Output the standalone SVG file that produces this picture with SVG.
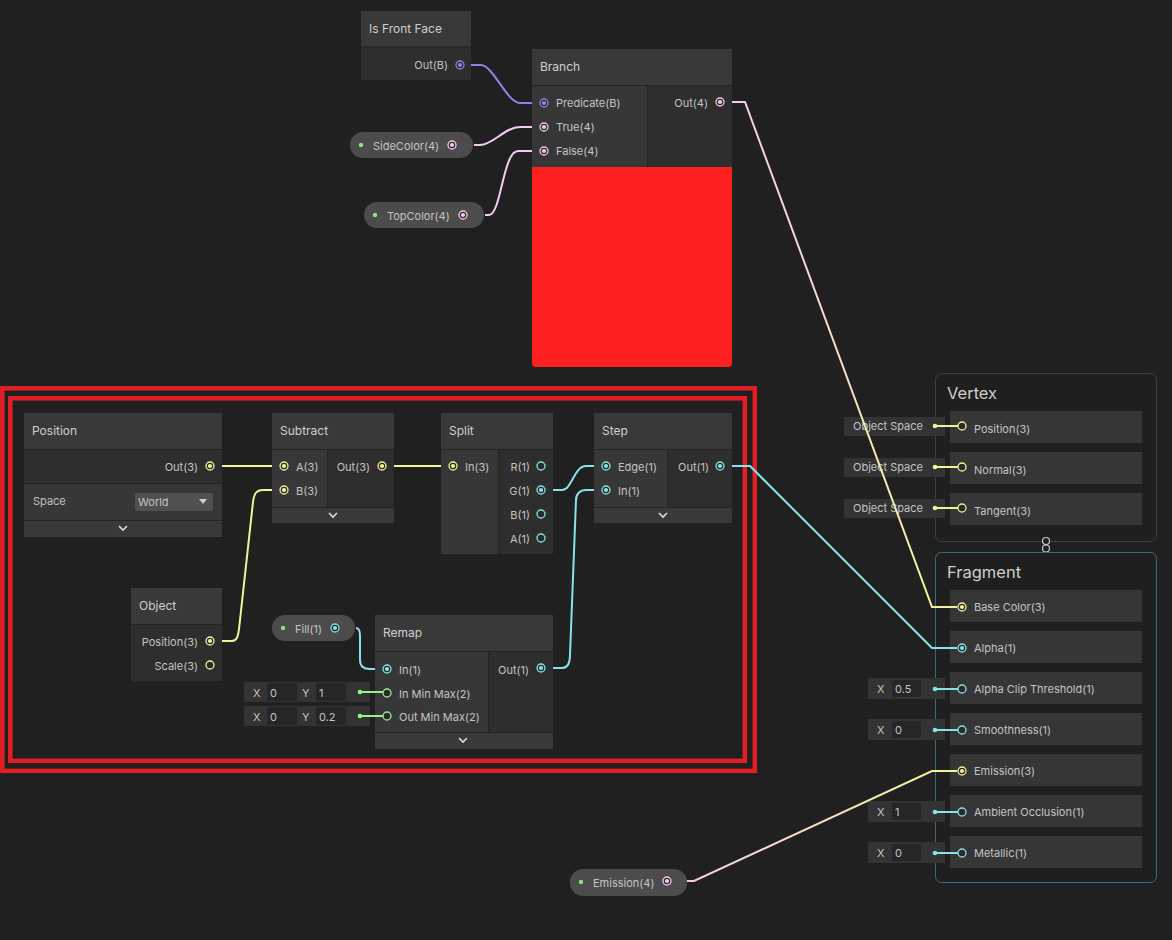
<svg xmlns="http://www.w3.org/2000/svg" width="1172" height="940" viewBox="0 0 1172 940">
<style>
.t{font-family:Inter,"Noto Sans",sans-serif;font-size:11px;fill:#c4c4c4}
.ti{font-family:Inter,"Noto Sans",sans-serif;font-size:12px;fill:#cfcfcf}
.big{font-family:Inter,"Noto Sans",sans-serif;font-size:16.5px;fill:#cfcfcf}
.r{text-anchor:end}
.hdr{fill:#393939}
.out{fill:#2e2e2e}
.inp{fill:#373737}
.bar{fill:#393939}
.sep{stroke:#242424;stroke-width:1}
.chev{fill:none;stroke:#dcdcdc;stroke-width:1.6}
.pill{fill:#4c4c4c}
.row{fill:#363636}
.fld{fill:#333333}
.box{fill:#262626}
.c{fill:none;stroke-width:2}
.cy{stroke:#f2f29c}
.cc{stroke:#84e4e7}
.cp{stroke:#f5cbef}
.cu{stroke:#9481e6}
.cg{stroke:#9aef92}
.red{fill:none;stroke:#e31e25;stroke-width:4.5}
</style>
<defs>
<g id="pFy"><circle r="4" fill="#2a2a2a" stroke="#f2f29c" stroke-width="1.3"/><circle r="2.1" fill="#f2f29c"/></g>
<g id="pHy"><circle r="4" fill="#2a2a2a" stroke="#f2f29c" stroke-width="1.3"/></g>
<g id="pFc"><circle r="4" fill="#2a2a2a" stroke="#84e4e7" stroke-width="1.3"/><circle r="2.1" fill="#84e4e7"/></g>
<g id="pHc"><circle r="4" fill="#2a2a2a" stroke="#84e4e7" stroke-width="1.3"/></g>
<g id="pFp"><circle r="4" fill="#2a2a2a" stroke="#f5cbef" stroke-width="1.3"/><circle r="2.1" fill="#f5cbef"/></g>
<g id="pFu"><circle r="4" fill="#2a2a2a" stroke="#9481e6" stroke-width="1.3"/><circle r="2.1" fill="#9481e6"/></g>
<g id="pHg"><circle r="4" fill="#2a2a2a" stroke="#9aef92" stroke-width="1.3"/></g>
<linearGradient id="gBranch" gradientUnits="userSpaceOnUse" x1="745" y1="102" x2="932" y2="607"><stop offset="0" stop-color="#f5cbef"/><stop offset="1" stop-color="#f2f29c"/></linearGradient>
<linearGradient id="gEmis" gradientUnits="userSpaceOnUse" x1="690" y1="881" x2="932" y2="771"><stop offset="0" stop-color="#f5cbef"/><stop offset="1" stop-color="#f2f29c"/></linearGradient>
</defs>
<rect width="1172" height="940" fill="#202020"/>

<!-- red highlight frame -->
<rect class="red" x="2.3" y="388.3" width="752.5" height="382.5"/>
<rect class="red" x="10.3" y="398.3" width="734.5" height="362.5"/>

<!-- master stack: vertex -->
<g id="vertex">
<rect x="935.5" y="373.5" width="221" height="168" rx="6" fill="#1f1f1f" stroke="#3f3f3f"/>
<text class="big" x="947" y="399">Vertex</text>
<rect class="row" x="950" y="411" width="192" height="32"/>
<rect class="row" x="950" y="452" width="192" height="32"/>
<rect class="row" x="950" y="493" width="192" height="32"/>
<text class="t" x="974" y="433">Position(3)</text>
<text class="t" x="974" y="474">Normal(3)</text>
<text class="t" x="974" y="515">Tangent(3)</text>
<rect class="fld" x="844" y="417" width="101" height="19"/>
<rect class="fld" x="844" y="458" width="101" height="19"/>
<rect class="fld" x="844" y="499" width="101" height="19"/>
<text class="t" x="853" y="430">Object Space</text>
<text class="t" x="853" y="471">Object Space</text>
<text class="t" x="853" y="512">Object Space</text>
<g stroke="#f2f29c" stroke-width="2"><line x1="936" y1="426" x2="958" y2="426"/><line x1="936" y1="467" x2="958" y2="467"/><line x1="936" y1="508" x2="958" y2="508"/></g>
<g fill="#f2f29c"><circle cx="935" cy="426" r="2.3"/><circle cx="935" cy="467" r="2.3"/><circle cx="935" cy="508" r="2.3"/></g>
<use href="#pHy" x="962" y="426"/><use href="#pHy" x="962" y="467"/><use href="#pHy" x="962" y="508"/>
</g>

<g id="stack-link">
<line x1="1046" y1="541" x2="1046" y2="548" stroke="#c8c8c8" stroke-width="1.2"/>
<circle cx="1046" cy="541" r="3.5" fill="#202020" stroke="#c8c8c8" stroke-width="1.2"/>
<circle cx="1046" cy="548.5" r="3.5" fill="#202020" stroke="#c8c8c8" stroke-width="1.2"/>
</g>

<!-- master stack: fragment -->
<g id="fragment">
<rect x="935.5" y="552.5" width="221" height="330" rx="6" fill="#1f1f1f" stroke="#3c6b80"/>
<text class="big" x="947" y="578">Fragment</text>
<rect class="row" x="950" y="590" width="192" height="32"/>
<rect class="row" x="950" y="631" width="192" height="32"/>
<rect class="row" x="950" y="672" width="192" height="32"/>
<rect class="row" x="950" y="713" width="192" height="32"/>
<rect class="row" x="950" y="754" width="192" height="32"/>
<rect class="row" x="950" y="795" width="192" height="32"/>
<rect class="row" x="950" y="836" width="192" height="32"/>
<text class="t" x="974" y="611">Base Color(3)</text>
<text class="t" x="974" y="652">Alpha(1)</text>
<text class="t" x="974" y="693">Alpha Clip Threshold(1)</text>
<text class="t" x="974" y="734">Smoothness(1)</text>
<text class="t" x="974" y="775">Emission(3)</text>
<text class="t" x="974" y="816">Ambient Occlusion(1)</text>
<text class="t" x="974" y="857">Metallic(1)</text>
<rect class="fld" x="868" y="678" width="77" height="21"/>
<rect class="fld" x="868" y="719" width="77" height="21"/>
<rect class="fld" x="868" y="801" width="77" height="21"/>
<rect class="fld" x="868" y="842" width="77" height="21"/>
<g fill="#262626"><rect x="892" y="680" width="29" height="17" rx="2"/><rect x="892" y="721" width="29" height="17" rx="2"/><rect x="892" y="803" width="29" height="17" rx="2"/><rect x="892" y="844" width="29" height="17" rx="2"/></g>
<text class="t" x="877" y="693">X</text><text class="t" x="895" y="693">0.5</text>
<text class="t" x="877" y="734">X</text><text class="t" x="895" y="734">0</text>
<text class="t" x="877" y="816">X</text><text class="t" x="895" y="816">1</text>
<text class="t" x="877" y="857">X</text><text class="t" x="895" y="857">0</text>
<g stroke="#84e4e7" stroke-width="2"><line x1="936" y1="689" x2="958" y2="689"/><line x1="936" y1="730" x2="958" y2="730"/><line x1="936" y1="812" x2="958" y2="812"/><line x1="936" y1="853" x2="958" y2="853"/></g>
<g fill="#84e4e7"><circle cx="935" cy="689" r="2.3"/><circle cx="935" cy="730" r="2.3"/><circle cx="935" cy="812" r="2.3"/><circle cx="935" cy="853" r="2.3"/></g>
<use href="#pFy" x="962" y="607"/>
<use href="#pFc" x="962" y="648"/>
<use href="#pHc" x="962" y="689"/>
<use href="#pHc" x="962" y="730"/>
<use href="#pFy" x="962" y="771"/>
<use href="#pHc" x="962" y="812"/>
<use href="#pHc" x="962" y="853"/>
</g>

<!-- connectors -->
<g id="connectors">
<path class="c cu" d="M465 65 H481 C493 65 507 103 520 103 H539"/>
<path class="c cp" d="M474 145 H480 C493 145 505 127 520 127 H539"/>
<path class="c cp" d="M485 215 H489 C501 215 503 151 518 151 H539"/>
<path class="c" stroke="url(#gBranch)" d="M725 102 H745 L932 607 H957"/>
<path class="c cy" d="M214 466 H279"/>
<path class="c cy" d="M214 641 H232 C237 641 238 636 239 629 L253 502 C254 494 256 490 263 490 H279"/>
<path class="c cy" d="M387 466 H448"/>
<path class="c cc" d="M546 490 H562 C572 490 574 466 586 466 H601"/>
<path class="c cc" d="M546 668 H562 C568 668 570 662 570 655 L576 500 C576 494 580 490 586 490 H601"/>
<path class="c cc" d="M356 628 C359 628 360 631 360 636 L360 660 C360 666 363 669 370 669 H382"/>
<path class="c cc" d="M725 466 H750 L932 648 H957"/>
<path class="c" stroke="url(#gEmis)" d="M687 881 H694 L932 771 H957"/>
</g>

<!-- Is Front Face -->
<g id="isfrontface">
<rect class="hdr" x="361" y="11" width="110" height="36"/>
<rect class="out" x="361" y="47" width="110" height="33"/>
<line class="sep" x1="361" y1="47" x2="471" y2="47"/>
<text class="ti" x="369" y="33">Is Front Face</text>
<text class="t r" x="448" y="69">Out(B)</text>
<use href="#pFu" x="460" y="65"/>
</g>

<!-- Branch -->
<g id="branch">
<rect class="hdr" x="532" y="49" width="200" height="36"/>
<rect class="inp" x="532" y="85" width="115" height="82"/>
<rect class="out" x="647" y="85" width="85" height="82"/>
<line class="sep" x1="532" y1="85.5" x2="732" y2="85.5"/>
<line class="sep" x1="647.5" y1="85" x2="647.5" y2="167"/>
<path d="M532 167 H732 V363 Q732 367 728 367 H536 Q532 367 532 363 Z" fill="#ff2020"/>
<text class="ti" x="540" y="71">Branch</text>
<text class="t" x="556" y="107">Predicate(B)</text>
<text class="t" x="556" y="131">True(4)</text>
<text class="t" x="556" y="155">False(4)</text>
<text class="t r" x="708" y="107">Out(4)</text>
<use href="#pFu" x="544" y="103"/>
<use href="#pFp" x="544" y="127"/>
<use href="#pFp" x="544" y="151"/>
<use href="#pFp" x="720" y="102"/>
</g>

<!-- property pills -->
<g id="sidecolor">
<rect class="pill" x="350" y="132" width="123" height="26" rx="13"/>
<circle cx="361" cy="145" r="2.2" fill="#8ee07a"/>
<text class="t" x="373" y="150">SideColor(4)</text>
<use href="#pFp" x="452" y="145"/>
</g>
<g id="topcolor">
<rect class="pill" x="364" y="202" width="120" height="26" rx="13"/>
<circle cx="375" cy="215" r="2.2" fill="#8ee07a"/>
<text class="t" x="387" y="220">TopColor(4)</text>
<use href="#pFp" x="463" y="215"/>
</g>
<g id="fill">
<rect class="pill" x="272" y="615" width="83" height="26" rx="13"/>
<circle cx="283" cy="628" r="2.2" fill="#8ee07a"/>
<text class="t" x="295" y="633">Fill(1)</text>
<use href="#pFc" x="335" y="628"/>
</g>
<g id="emission">
<rect class="pill" x="570" y="869" width="117" height="27" rx="13"/>
<circle cx="581" cy="882" r="2.2" fill="#8ee07a"/>
<text class="t" x="593" y="887">Emission(4)</text>
<use href="#pFp" x="667" y="881"/>
</g>

<!-- Position -->
<g id="position">
<rect class="hdr" x="24" y="413" width="198" height="36"/>
<rect class="out" x="24" y="449" width="198" height="34"/>
<rect class="inp" x="24" y="483" width="198" height="37"/>
<rect class="bar" x="24" y="520" width="198" height="17"/>
<line class="sep" x1="24" y1="449.5" x2="222" y2="449.5"/>
<line class="sep" x1="24" y1="483.5" x2="222" y2="483.5"/>
<line class="sep" x1="24" y1="520.5" x2="222" y2="520.5"/>
<text class="ti" x="32" y="435">Position</text>
<text class="t r" x="198" y="471">Out(3)</text>
<use href="#pFy" x="210" y="466"/>
<text class="t" x="33" y="505">Space</text>
<rect x="135" y="493" width="78" height="18" rx="2" fill="#505050"/>
<text class="t" x="138" y="506">World</text>
<path d="M199 499 H207 L203 504 Z" fill="#cfcfcf"/>
<path class="chev" d="M119 526 L123 530 L127 526"/>
</g>

<!-- Subtract -->
<g id="subtract">
<rect class="hdr" x="272" y="413" width="122" height="36"/>
<rect class="inp" x="272" y="449" width="55" height="58"/>
<rect class="out" x="327" y="449" width="67" height="58"/>
<rect class="bar" x="272" y="507" width="122" height="16"/>
<line class="sep" x1="272" y1="449.5" x2="394" y2="449.5"/>
<line class="sep" x1="327.5" y1="449" x2="327.5" y2="507"/>
<line class="sep" x1="272" y1="507.5" x2="394" y2="507.5"/>
<text class="ti" x="280" y="435">Subtract</text>
<text class="t" x="296" y="471">A(3)</text>
<text class="t" x="296" y="495">B(3)</text>
<text class="t r" x="370" y="471">Out(3)</text>
<use href="#pFy" x="284" y="466"/>
<use href="#pFy" x="284" y="490"/>
<use href="#pFy" x="382" y="466"/>
<path class="chev" d="M329 513 L333 517 L337 513"/>
</g>

<!-- Split -->
<g id="split">
<rect class="hdr" x="441" y="413" width="112" height="36"/>
<rect class="inp" x="441" y="449" width="57" height="105"/>
<rect class="out" x="498" y="449" width="55" height="105"/>
<line class="sep" x1="441" y1="449.5" x2="553" y2="449.5"/>
<line class="sep" x1="498.5" y1="449" x2="498.5" y2="554"/>
<text class="ti" x="449" y="435">Split</text>
<text class="t" x="465" y="471">In(3)</text>
<use href="#pFy" x="453" y="466"/>
<text class="t r" x="530" y="471">R(1)</text>
<text class="t r" x="530" y="495">G(1)</text>
<text class="t r" x="530" y="519">B(1)</text>
<text class="t r" x="530" y="543">A(1)</text>
<use href="#pHc" x="541" y="466"/>
<use href="#pFc" x="541" y="490"/>
<use href="#pHc" x="541" y="514"/>
<use href="#pHc" x="541" y="538"/>
</g>

<!-- Step -->
<g id="step">
<rect class="hdr" x="594" y="413" width="138" height="36"/>
<rect class="inp" x="594" y="449" width="73" height="58"/>
<rect class="out" x="667" y="449" width="65" height="58"/>
<rect class="bar" x="594" y="507" width="138" height="16"/>
<line class="sep" x1="594" y1="449.5" x2="732" y2="449.5"/>
<line class="sep" x1="667.5" y1="449" x2="667.5" y2="507"/>
<line class="sep" x1="594" y1="507.5" x2="732" y2="507.5"/>
<text class="ti" x="602" y="435">Step</text>
<text class="t" x="618" y="471">Edge(1)</text>
<text class="t" x="618" y="495">In(1)</text>
<text class="t r" x="709" y="471">Out(1)</text>
<use href="#pFc" x="606" y="466"/>
<use href="#pFc" x="606" y="490"/>
<use href="#pFc" x="720" y="466"/>
<path class="chev" d="M659 513 L663 517 L667 513"/>
</g>

<!-- Object -->
<g id="object">
<rect class="hdr" x="131" y="588" width="91" height="36"/>
<rect class="out" x="131" y="624" width="91" height="57"/>
<line class="sep" x1="131" y1="624.5" x2="222" y2="624.5"/>
<text class="ti" x="139" y="610">Object</text>
<text class="t r" x="198" y="646">Position(3)</text>
<text class="t r" x="198" y="670">Scale(3)</text>
<use href="#pFy" x="210" y="641"/>
<use href="#pHy" x="210" y="665"/>
</g>

<!-- Remap -->
<g id="remap">
<rect class="hdr" x="375" y="615" width="178" height="36"/>
<rect class="inp" x="375" y="651" width="113" height="81"/>
<rect class="out" x="488" y="651" width="65" height="81"/>
<rect class="bar" x="375" y="732" width="178" height="17"/>
<line class="sep" x1="375" y1="651.5" x2="553" y2="651.5"/>
<line class="sep" x1="488.5" y1="651" x2="488.5" y2="732"/>
<line class="sep" x1="375" y1="732.5" x2="553" y2="732.5"/>
<text class="ti" x="383" y="637">Remap</text>
<text class="t" x="399" y="674">In(1)</text>
<text class="t" x="399" y="698">In Min Max(2)</text>
<text class="t" x="399" y="721">Out Min Max(2)</text>
<text class="t r" x="529" y="674">Out(1)</text>
<use href="#pFc" x="387" y="669"/>
<use href="#pHg" x="387" y="693"/>
<use href="#pHg" x="387" y="716"/>
<use href="#pFc" x="541" y="668"/>
<path class="chev" d="M459 738 L463 742 L467 738"/>
<rect class="fld" x="244" y="682" width="126" height="20"/>
<rect class="fld" x="244" y="706" width="126" height="20"/>
<g fill="#262626"><rect x="267" y="683" width="30" height="18" rx="2"/><rect x="316" y="683" width="30" height="18" rx="2"/><rect x="267" y="707" width="30" height="18" rx="2"/><rect x="316" y="707" width="30" height="18" rx="2"/></g>
<text class="t" x="253" y="697">X</text><text class="t" x="270" y="697">0</text>
<text class="t" x="302" y="697">Y</text><text class="t" x="319" y="697">1</text>
<text class="t" x="253" y="721">X</text><text class="t" x="270" y="721">0</text>
<text class="t" x="302" y="721">Y</text><text class="t" x="319" y="721">0.2</text>
<g stroke="#9aef92" stroke-width="2"><line x1="361" y1="692" x2="383" y2="692"/><line x1="361" y1="716" x2="383" y2="716"/></g>
<g fill="#9aef92"><circle cx="360" cy="692" r="2.3"/><circle cx="360" cy="716" r="2.3"/></g>
</g>
</svg>
